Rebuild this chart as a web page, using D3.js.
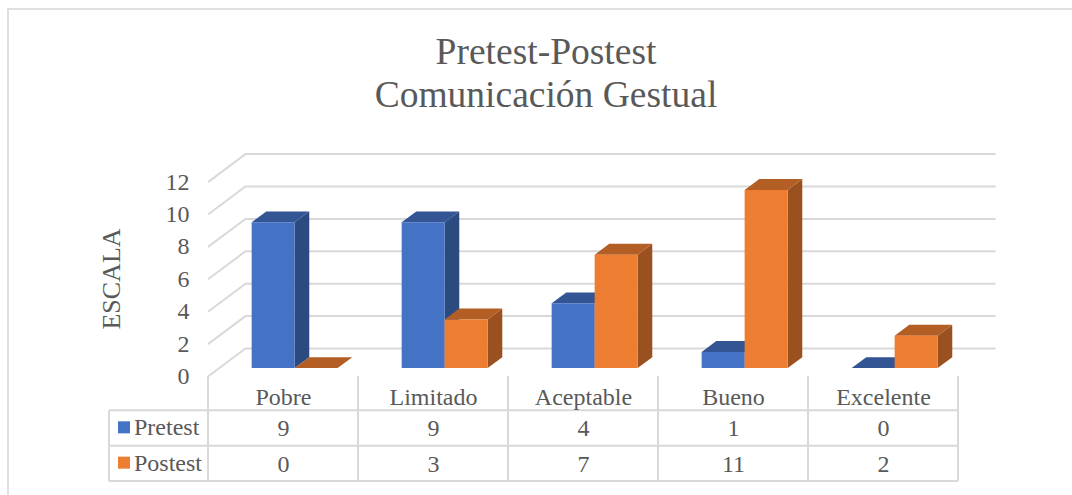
<!DOCTYPE html>
<html>
<head>
<meta charset="utf-8">
<script src="https://d3js.org/d3.v7.min.js"></script>
<style>
  html, body { margin: 0; padding: 0; background: #fff; overflow: hidden; }
  text { font-family: "Liberation Serif", serif; fill: #595959; }
</style>
</head>
<body>
<div id="chart"></div>
<script>
// Chart data
const categories = ['Pobre', 'Limitado', 'Aceptable', 'Bueno', 'Excelente'];
const seriesNames = ['Pretest', 'Postest'];
const pretest = [9, 9, 4, 1, 0];
const postest = [0, 3, 7, 11, 2];
const yTicks = [0, 2, 4, 6, 8, 10, 12];

const width = 1072;
const height = 495;

const colors = {
    Pretest: { front: '#4472c4', top: '#335593', side: '#2a4a80' },
    Postest: { front: '#ed7d31', top: '#b35e24', side: '#9a511f' }
};
const gridColor = '#d9d9d9';

const svg = d3.select('#chart')
    .append('svg')
    .attr('width', width)
    .attr('height', height)
    .attr('viewBox', `0 0 ${width} ${height}`);

// Outer chart border, only the left and top edges show
svg.append('path')
    .attr('d', `M8,${height} V9 H${width}`)
    .attr('fill', 'none')
    .attr('stroke', '#e0e0e0')
    .attr('stroke-width', 2);

// Scales for the front plane of the floor
const xScale = d3.scaleBand()
    .domain(categories)
    .range([208, 958]);

const seriesScale = d3.scaleBand()
    .domain(seriesNames)
    .range([32.4, 118.4]);

const yScale = d3.scaleLinear()
    .domain([0, 12])
    .range([376.5, 182.1]);

// Depth goes from 0 (front plane) to 1 (back wall)
const depthX = d3.scaleLinear().domain([0, 1]).range([0, 37.5]);
const depthY = d3.scaleLinear().domain([0, 1]).range([0, -28]);

const project = (x, value, depth) => [x + depthX(depth), yScale(value) + depthY(depth)];

// Gridlines on the left and back walls
const grid = svg.append('g').attr('class', 'grid');
yTicks.forEach(t => {
    const a = project(xScale.range()[0], t, 0);
    const b = project(xScale.range()[0], t, 1);
    const c = project(xScale.range()[1], t, 1);
    grid.append('polyline')
        .attr('points', [a, b, c].map(p => p.join(',')).join(' '))
        .attr('fill', 'none')
        .attr('stroke', gridColor)
        .attr('stroke-width', 2);
});

// Y axis labels
svg.append('g')
    .selectAll('text')
    .data(yTicks)
    .enter()
    .append('text')
    .attr('x', 189.5)
    .attr('y', d => yScale(d) + 7.5)
    .attr('text-anchor', 'end')
    .style('font-size', '24px')
    .text(d => d);

// Y axis title
svg.append('text')
    .attr('transform', 'translate(120,279) rotate(-90)')
    .attr('text-anchor', 'middle')
    .style('font-size', '26px')
    .text('ESCALA');

// Title
svg.append('text')
    .attr('x', 546)
    .attr('y', 64)
    .attr('text-anchor', 'middle')
    .style('font-size', '37.5px')
    .text('Pretest-Postest');
svg.append('text')
    .attr('x', 546)
    .attr('y', 107)
    .attr('text-anchor', 'middle')
    .style('font-size', '37.5px')
    .text('Comunicación Gestual');

// 3D bars, one column at a time so the later bar overlaps the earlier one
const barNear = 0.3;
const barFar = 0.69;
const bars = svg.append('g').attr('class', 'bars');
const seriesValues = { Pretest: pretest, Postest: postest };

function poly(points, fill) {
    bars.append('polygon')
        .attr('points', points.map(p => p.join(',')).join(' '))
        .attr('fill', fill);
}

categories.forEach((cat, i) => {
    seriesNames.forEach(name => {
        const v = seriesValues[name][i];
        const c = colors[name];
        const x0 = xScale(cat) + seriesScale(name);
        const x1 = x0 + seriesScale.bandwidth();
        // side face
        poly([project(x1, 0, barNear), project(x1, 0, barFar), project(x1, v, barFar), project(x1, v, barNear)], c.side);
        // top face
        poly([project(x0, v, barNear), project(x1, v, barNear), project(x1, v, barFar), project(x0, v, barFar)], c.top);
        // front face
        poly([project(x0, 0, barNear), project(x1, 0, barNear), project(x1, v, barNear), project(x0, v, barNear)], c.front);
    });
});

// Data table under the chart
const tableLeft = 109;
const rowScale = d3.scaleBand()
    .domain(['header'].concat(seriesNames))
    .range([375, 481]);
const rowLines = [rowScale('Pretest'), rowScale('Postest'), rowScale.range()[1]];

const table = svg.append('g').attr('class', 'table');
rowLines.forEach(y => {
    table.append('line')
        .attr('x1', tableLeft).attr('x2', xScale.range()[1])
        .attr('y1', y).attr('y2', y)
        .attr('stroke', gridColor).attr('stroke-width', 2);
});
// vertical lines between categories
const colEdges = categories.map(c => xScale(c)).concat([xScale.range()[1]]);
colEdges.forEach(x => {
    table.append('line')
        .attr('x1', x).attr('x2', x)
        .attr('y1', rowScale.range()[0] + 1).attr('y2', rowScale.range()[1])
        .attr('stroke', gridColor).attr('stroke-width', 2);
});
table.append('line')
    .attr('x1', tableLeft).attr('x2', tableLeft)
    .attr('y1', rowScale('Pretest')).attr('y2', rowScale.range()[1])
    .attr('stroke', gridColor).attr('stroke-width', 2);

// Category labels
categories.forEach(cat => {
    table.append('text')
        .attr('x', xScale(cat) + xScale.bandwidth() / 2 + 0.5)
        .attr('y', rowScale('header') + 30)
        .attr('text-anchor', 'middle')
        .style('font-size', '24px')
        .text(cat);
});

// Legend keys and values
seriesNames.forEach(name => {
    const y = rowScale(name);
    table.append('rect')
        .attr('x', 118)
        .attr('y', y + 11)
        .attr('width', 12)
        .attr('height', 12)
        .attr('fill', colors[name].front);
    table.append('text')
        .attr('x', 134)
        .attr('y', y + 25)
        .style('font-size', '24px')
        .text(name);
    seriesValues[name].forEach((v, i) => {
        table.append('text')
            .attr('x', xScale(categories[i]) + xScale.bandwidth() / 2 + 0.5)
            .attr('y', y + 26)
            .attr('text-anchor', 'middle')
            .style('font-size', '24px')
            .text(v);
    });
});
</script>
</body>
</html>
